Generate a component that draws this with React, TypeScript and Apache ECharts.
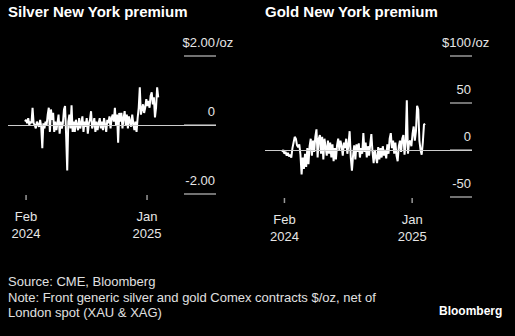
import React, { useEffect, useRef } from 'react';
import * as echarts from 'echarts';

const silverStart = '2024-01-29';
const goldStart = '2024-01-26';
const stepDays = 3;

const silverValues = [
  0.1, 0.15, 0.05, 0.2, 0.0, 0.1, 0.05,
  0.5,
  0.05, 0.0, -0.1, 0.1, 0.0, -0.05, 0.15, -0.05,
  -0.67,
  0.05, -0.1, 0.1, 0.0,
  0.3, 0.5, -0.2, 0.45, 0.15, 0.35,
  -0.2, 0.1, -0.15, 0.05, 0.3, -0.25, 0.1, -0.1, 0.05,
  0.45, 0.55, -0.3, -1.32, 0.1, 0.3, -0.1, 0.57, -0.2,
  0.1, -0.2, 0.15, 0.0, -0.15, 0.2, -0.1, 0.05, 0.25, -0.2, 0.1, -0.05, 0.2, -0.25, 0.05, 0.15, 0.4, -0.1, 0.0, 0.2, -0.2, 0.1, -0.15, 0.05, 0.2, -0.1,
  0.1, -0.15, 0.2, 0.0, -0.2, 0.15, 0.05, 0.25, -0.1, 0.2, 0.3, 0.1, 0.5,
  0.0, 0.3, -0.51, 0.35,
  0.1, 0.35, -0.1, 0.2, 0.4, 0.0, 0.3, -0.1, 0.25, 0.1, -0.05, 0.3, 0.05, -0.15, 0.1, -0.2,
  0.2, 0.5, 1.09, 0.3, 0.45, 0.6, 0.35, 0.5, 0.75, 0.55, 0.7, 0.5, 0.85, 0.95, 0.6, 0.8, 0.22, 0.5, 1.09, 0.8,
];

const goldValues = [
  -2, 0, -4, -2, -6, -3, -7, -5, -8, 2,
  8, 14, 12, 5, 3, 6, -5, -26, -8, -20,
  -4, -18, 2, -15, 4, 12, -6, 10, -2, 14,
  22, -8, 12, 16, -4, 14, -10, 12, 3, -6,
  10, -4, 8, -8, 6, -12, 2, -10, 5, 12,
  0, 10, 4, -6, 8, 2, 12, -4, 6, 20,
  -8, -22, -6, 5, -10, 6, -2, 7, -8, 2,
  -4, 18, -2, 8, -8, 4, -6, 6, 17, -2,
  -14, 0, -8, -14, 3, -10, 2, -8, 4, -6,
  0, -9, 6, -4, 12, 18, 2, 10, -4, 8,
  -6, -12, 4, 10, -2, 12, 16, -5, 8, 53,
  -4, 8, 10, 4, 17, 25, 10, 20, 47, 43,
  10, 0, -5, 8, 27, 28,
];

const xTickDates = ['2024-02-01', '2025-01-01'];
const monthNames = ['Jan', 'Feb', 'Mar', 'Apr', 'May', 'Jun', 'Jul', 'Aug', 'Sep', 'Oct', 'Nov', 'Dec'];

const silverAxis = { min: -2, max: 2, interval: 2, xMin: '2023-12-13', xMax: '2025-07-11' };
const goldAxis = { min: -50, max: 100, interval: 50, xMin: '2023-12-12', xMax: '2025-06-07' };

const titles = ['Silver New York premium', 'Gold New York premium'];
const footerLines = [
  'Source: CME, Bloomberg',
  'Note: Front generic silver and gold Comex contracts $/oz, net of',
  'London spot (XAU & XAG)',
];
const brand = 'Bloomberg';

const FONT = '"Liberation Sans", Arial, sans-serif';
const DAY = 86400000;

const ts = (s: string) => Date.parse(s + 'T00:00:00Z');
const toSeries = (start: string, values: number[]) => {
  const t0 = ts(start);
  return values.map((v, i) => [t0 + i * stepDays * DAY, v]);
};

const xLabelFmt = (v: number) => {
  const d = new Date(v);
  return monthNames[d.getUTCMonth()] + '\n' + d.getUTCFullYear();
};

export default function App() {
  const ref = useRef<HTMLDivElement>(null);

  useEffect(() => {
    document.body.style.margin = '0';
    document.body.style.background = '#000';
    const chart = echarts.init(ref.current!, null, { renderer: 'svg' });
    const tickVals = xTickDates.map(ts);

    const makeX = (gridIndex: number, ax: any) => ({
      type: 'value',
      gridIndex,
      min: ts(ax.xMin),
      max: ts(ax.xMax),
      axisLine: { show: false },
      splitLine: { show: false },
      axisTick: { show: false },
      axisLabel: {
        customValues: tickVals,
        formatter: xLabelFmt,
        color: '#e6e6e6',
        fontFamily: FONT,
        fontSize: 13,
        lineHeight: 17,
        margin: 14,
        align: 'center',
      },
    });

    const makeY = (gridIndex: number, ax: any, tickLen: number, fmt: (v: number) => string) => [
      {
        type: 'value',
        gridIndex,
        position: 'right',
        min: ax.min,
        max: ax.max,
        interval: ax.interval,
        axisLine: { show: false },
        splitLine: { show: false },
        axisTick: { show: true, inside: true, length: tickLen, lineStyle: { color: '#999', width: 1.5 } },
        axisLabel: {
          inside: true,
          margin: 1,
          align: 'right',
          verticalAlign: 'bottom',
          padding: [0, 0, 7, 0],
          color: '#e6e6e6',
          fontFamily: FONT,
          fontSize: 13,
          formatter: fmt,
        },
      },
      {
        type: 'value',
        gridIndex,
        position: 'right',
        min: ax.min,
        max: ax.max,
        interval: ax.interval,
        axisLine: { show: false },
        splitLine: { show: false },
        axisTick: { show: false },
        axisLabel: {
          inside: false,
          margin: 0,
          align: 'left',
          verticalAlign: 'bottom',
          padding: [0, 0, 7, 0],
          color: '#e6e6e6',
          fontFamily: FONT,
          fontSize: 13,
          formatter: (v: number) => (v === ax.max ? '/oz' : ''),
        },
      },
    ];

    const zeroLine = {
      silent: true,
      symbol: ['none', 'none'],
      label: { show: false },
      lineStyle: { color: '#cccccc', width: 1, type: 'solid' },
      data: [{ yAxis: 0 }],
    };

    const tickSeries = (xAxisIndex: number, yAxisIndex: number, yMin: number, len: number) => ({
      type: 'custom',
      xAxisIndex,
      yAxisIndex,
      silent: true,
      clip: false,
      data: tickVals.map((t) => [t, yMin]),
      renderItem: (params: any, api: any) => {
        const p = api.coord([api.value(0), api.value(1)]);
        return {
          type: 'line',
          shape: { x1: p[0], y1: p[1] + 1, x2: p[0], y2: p[1] + 1 + len },
          style: { stroke: '#999', lineWidth: 1.5 },
        };
      },
    });

    chart.setOption({
      animation: false,
      backgroundColor: '#000',
      title: titles.map((t, i) => ({
        text: t,
        left: i === 0 ? 8 : 265,
        top: 4,
        padding: 0,
        textStyle: { color: '#fff', fontSize: 15, fontWeight: 'bold', fontFamily: FONT },
      })),
      grid: [
        { left: 8, top: 56, width: 208, height: 138 },
        { left: 265, top: 56, width: 207, height: 141 },
      ],
      xAxis: [makeX(0, silverAxis), makeX(1, goldAxis)],
      yAxis: [
        ...makeY(0, silverAxis, 32, (v: number) => (v === silverAxis.max ? '$' + v.toFixed(2) : v === 0 ? '0' : v.toFixed(2))),
        ...makeY(1, goldAxis, 22, (v: number) => (v === goldAxis.max ? '$' + v : String(v))),
      ],
      series: [
        {
          type: 'line',
          xAxisIndex: 0,
          yAxisIndex: 0,
          data: toSeries(silverStart, silverValues),
          showSymbol: false,
          lineStyle: { color: '#fff', width: 2 },
          markLine: zeroLine,
          z: 3,
        },
        {
          type: 'line',
          xAxisIndex: 1,
          yAxisIndex: 2,
          data: toSeries(goldStart, goldValues),
          showSymbol: false,
          lineStyle: { color: '#fff', width: 2 },
          markLine: zeroLine,
          z: 3,
        },
        tickSeries(0, 0, silverAxis.min, 5),
        tickSeries(1, 2, goldAxis.min, 5),
      ],
      graphic: [
        {
          type: 'text',
          left: 8,
          top: 274,
          style: {
            text: footerLines.join('\n'),
            fill: '#e0e0e0',
            font: '13px ' + FONT,
            lineHeight: 15.5,
          },
        },
        {
          type: 'text',
          left: 439,
          top: 305,
          style: { text: brand, fill: '#fff', font: 'bold 12px ' + FONT },
        },
      ],
    });
    return () => chart.dispose();
  }, []);

  return (
    <div
      ref={ref}
      style={{ position: 'fixed', left: 0, top: 0, width: 515, height: 336, background: '#000' }}
    />
  );
}
